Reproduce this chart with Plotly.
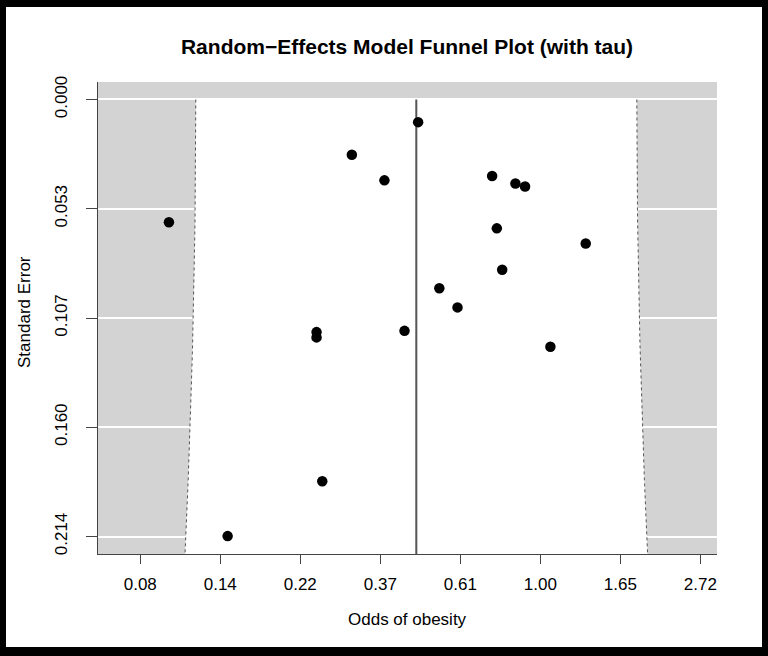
import numpy as np
import plotly.graph_objects as go

# ---- data ----
odds = [0.466, 0.308, 0.3775, 0.740, 0.856, 0.909, 0.0982, 0.762, 1.328,
        0.788, 0.532, 0.596, 0.428, 0.247, 0.247, 1.065, 0.256, 0.1417]
std_err = [0.0111, 0.0271, 0.0396, 0.0375, 0.0411, 0.0426, 0.0601, 0.0631, 0.0705,
           0.0834, 0.0924, 0.1018, 0.1133, 0.1139, 0.1165, 0.1211, 0.1869, 0.2138]
pooled_log_or = -0.775
tau = 0.703
y_tickvals = [0.0, 0.0535, 0.107, 0.1605, 0.214]
y_ticktext = ["0.000", "0.053", "0.107", "0.160", "0.214"]
x_tickvals = [float(np.exp(k / 2)) for k in range(-5, 3)]
x_ticktext = ["0.08", "0.14", "0.22", "0.37", "0.61", "1.00", "1.65", "2.72"]

# ---- layout constants ----
W, H = 768, 656
PL, PR, PT, PB = 98, 717, 82, 554
se_max = 0.214
y_lo, y_hi = -0.04 * se_max, se_max * 1.04
x_lo_ln, x_hi_ln = -2.764, 1.104
FONT = "Liberation Sans, Arial, Helvetica, sans-serif"
GRAY = "#d3d3d3"
DARK = "#444444"

def px(x):
    return (x - PL) / (PR - PL)

def py(y):
    return (PB - y) / (PB - PT)

fig = go.Figure()

# funnel (pseudo confidence region including tau)
se_grid = np.linspace(0, y_hi, 60)
half = 1.96 * np.sqrt(se_grid ** 2 + tau ** 2)
left = np.exp(pooled_log_or - half)
right = np.exp(pooled_log_or + half)
fig.add_trace(go.Scatter(
    x=np.concatenate([left, right[::-1]]),
    y=np.concatenate([se_grid, se_grid[::-1]]),
    fill="toself", fillcolor="white", mode="none", hoverinfo="skip", showlegend=False))
for edge in (left, right):
    fig.add_trace(go.Scatter(x=edge, y=se_grid, mode="lines",
                             line=dict(color="#555555", width=1, dash="dot"),
                             hoverinfo="skip", showlegend=False))
# pooled estimate line
fig.add_trace(go.Scatter(x=[np.exp(pooled_log_or)] * 2, y=[0, y_hi], mode="lines",
                         line=dict(color="#555555", width=2), hoverinfo="skip",
                         showlegend=False))
# studies
fig.add_trace(go.Scatter(x=odds, y=std_err, mode="markers",
                         marker=dict(color="black", size=10.5), showlegend=False))

# black frame around the figure
frame = [(0, 0, 6, H), (0, 0, W, 7), (W - 6, 0, W, H), (0, H - 9, W, H)]
shapes = []
for x0, y0, x1, y1 in frame:
    shapes.append(dict(type="rect", xref="paper", yref="paper",
                       x0=px(x0), x1=px(x1), y0=py(y1), y1=py(y0),
                       fillcolor="black", line=dict(width=0), layer="above"))

fig.update_layout(
    width=W, height=H,
    margin=dict(l=PL, r=W - PR, t=PT, b=H - PB, pad=0),
    paper_bgcolor="white", plot_bgcolor=GRAY,
    font=dict(family=FONT, color="black", size=17),
    title=dict(text="<b>Random\u2212Effects Model Funnel Plot (with tau)</b>",
               x=px(407), xref="paper", xanchor="center",
               y=1 - 47 / H, yanchor="middle", font=dict(size=21)),
    shapes=shapes,
    annotations=[
        dict(text="Odds of obesity", xref="paper", yref="paper", x=px(407), y=py(619),
             xanchor="center", yanchor="middle", showarrow=False, font=dict(size=17)),
        dict(text="Standard Error", xref="paper", yref="paper", x=px(24), y=py(312),
             xanchor="center", yanchor="middle", textangle=-90, showarrow=False,
             font=dict(size=17)),
    ],
    xaxis=dict(type="log", range=[x_lo_ln / np.log(10), x_hi_ln / np.log(10)],
               tickvals=x_tickvals, ticktext=x_ticktext, showgrid=False, zeroline=False,
               ticks="outside", ticklen=9, tickcolor=DARK, tickwidth=1,
               showline=True, linecolor=DARK, linewidth=1.3,
               ticklabelstandoff=5, tickfont=dict(size=17)),
    yaxis=dict(range=[y_hi, y_lo], tickvals=y_tickvals, ticktext=y_ticktext,
               tickangle=-90, showgrid=True, gridcolor="white", gridwidth=1.5,
               zeroline=False, ticks="outside", ticklen=11, tickcolor=DARK, tickwidth=1,
               showline=True, linecolor=DARK, linewidth=1.3,
               ticklabelstandoff=12, tickfont=dict(size=17)),
)

fig.write_html("out.html")
